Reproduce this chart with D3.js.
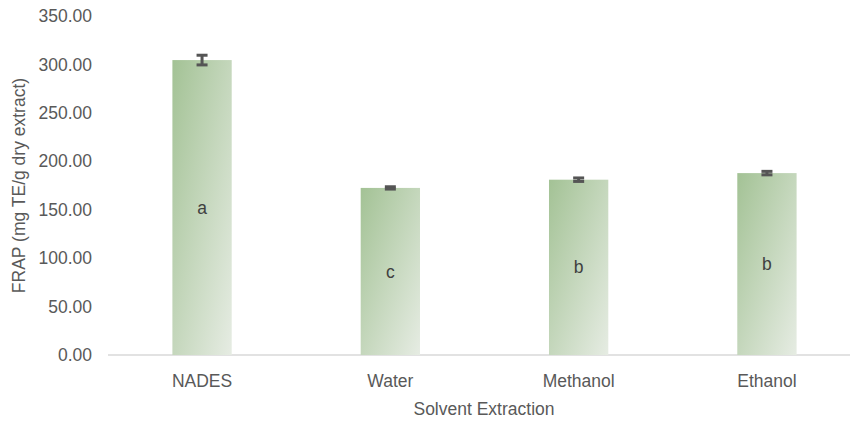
<!DOCTYPE html>
<html><head><meta charset="utf-8">
<script src="https://cdn.jsdelivr.net/npm/d3@7"></script>
<style>body{margin:0;background:#fff;} text{font-family:Arial,"Liberation Sans",sans-serif;}</style>
</head><body>
<svg id="chart" width="850" height="421"></svg>
<script>
const categories = ["NADES", "Water", "Methanol", "Ethanol"];
const values = [304.5, 172.5, 181.0, 187.8];
const errors = [5.0, 1.2, 1.8, 1.8];
const letters = ["a", "c", "b", "b"];
const yTicks = [0, 50, 100, 150, 200, 250, 300, 350];

const svg = d3.select("#chart");
const margin = {left: 108, right: -11, top: 16, bottom: 66};
const W = 850, H = 421;
const FS = 17.5;
const x = d3.scaleBand().domain(categories).range([margin.left, W - margin.right]).paddingInner(0.685).paddingOuter(0.342);
const y = d3.scaleLinear().domain([0, 350]).range([H - margin.bottom, margin.top]);

const defs = svg.append("defs");
const grad = defs.append("linearGradient").attr("id", "g").attr("x1", 0).attr("y1", 0).attr("x2", 1).attr("y2", 1);
grad.append("stop").attr("offset", "0%").attr("stop-color", "#a3c295");
grad.append("stop").attr("offset", "100%").attr("stop-color", "#e6ece3");

// axis line
svg.append("line").attr("x1", margin.left).attr("x2", 850).attr("y1", y(0)).attr("y2", y(0))
  .attr("stroke", "#d9d9d9").attr("stroke-width", 1.5);

// y tick labels
const yAxis = d3.axisLeft(y).tickValues(yTicks).tickFormat(d3.format(".2f")).tickSize(0).tickPadding(0);
const ga = svg.append("g").attr("transform", `translate(${margin.left - 16},0)`).call(yAxis);
ga.select(".domain").remove();
ga.selectAll("text").attr("fill", "#595959").attr("font-size", FS).style("font-family", "Arial, 'Liberation Sans', sans-serif");

// bars
svg.selectAll(".bar").data(values).enter().append("rect")
  .attr("x", (d, i) => x(categories[i]))
  .attr("width", x.bandwidth())
  .attr("y", d => y(d))
  .attr("height", d => y(0) - y(d))
  .attr("fill", "url(#g)");

// error bars
const cap = 11;
values.forEach((v, i) => {
  const cx = x(categories[i]) + x.bandwidth() / 2;
  const g = svg.append("g").attr("stroke", "#555555");
  g.append("line").attr("x1", cx).attr("x2", cx).attr("y1", y(v + errors[i])).attr("y2", y(v - errors[i])).attr("stroke-width", 3);
  g.append("line").attr("x1", cx - cap / 2).attr("x2", cx + cap / 2).attr("y1", y(v + errors[i])).attr("y2", y(v + errors[i])).attr("stroke-width", 3);
  g.append("line").attr("x1", cx - cap / 2).attr("x2", cx + cap / 2).attr("y1", y(v - errors[i])).attr("y2", y(v - errors[i])).attr("stroke-width", 3);
});

// letters
svg.selectAll(".lbl").data(values).enter().append("text")
  .attr("x", (d, i) => x(categories[i]) + x.bandwidth() / 2)
  .attr("y", d => y(d / 2))
  .attr("dy", "0.35em")
  .attr("text-anchor", "middle")
  .attr("font-size", FS).attr("fill", "#404040")
  .text((d, i) => letters[i]);

// x labels
svg.selectAll(".xl").data(categories).enter().append("text")
  .attr("x", d => x(d) + x.bandwidth() / 2)
  .attr("y", 387)
  .attr("text-anchor", "middle").attr("font-size", FS).attr("fill", "#595959")
  .text(d => d);

svg.append("text").attr("x", 484).attr("y", 415).attr("text-anchor", "middle")
  .attr("font-size", FS).attr("fill", "#595959").text("Solvent Extraction");

svg.append("text").attr("transform", `translate(25,${(y(0) + y(350)) / 2}) rotate(-90)`)
  .attr("text-anchor", "middle").attr("font-size", FS).attr("fill", "#595959")
  .text("FRAP (mg TE/g dry extract)");
</script>
</body></html>
